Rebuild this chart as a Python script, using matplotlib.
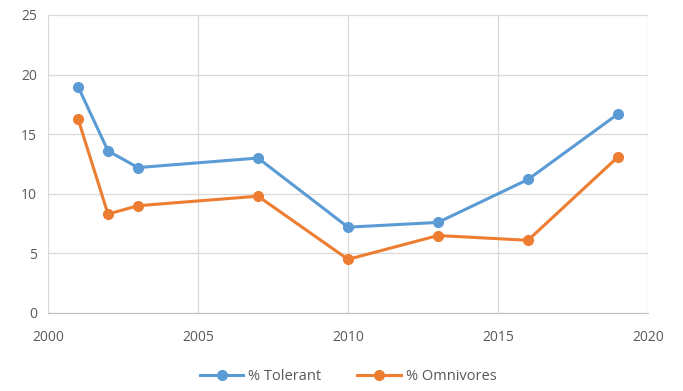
import matplotlib.pyplot as plt

plt.rcParams['font.family'] = ['Open Sans', 'DejaVu Sans']

years = [2001, 2002, 2003, 2007, 2010, 2013, 2016, 2019]
tolerant = [19.0, 13.6, 12.2, 13.0, 7.2, 7.6, 11.2, 16.7]
omnivores = [16.3, 8.3, 9.0, 9.8, 4.5, 6.5, 6.1, 13.1]
xticks = [2000, 2005, 2010, 2015, 2020]
yticks = [0, 5, 10, 15, 20, 25]

blue = '#5B9BD5'
orange = '#ED7D31'
grey = '#595959'

fig = plt.figure(figsize=(6.83, 3.91), dpi=100)
ax = fig.add_axes([48 / 683, 78 / 391, 600 / 683, 298 / 391])

ax.plot(years, tolerant, '-o', color=blue, lw=2.2, ms=7, label='% Tolerant')
ax.plot(years, omnivores, '-o', color=orange, lw=2.2, ms=7, label='% Omnivores')

ax.set_xlim(2000, 2020)
ax.set_ylim(0, 25)
ax.set_xticks(xticks)
ax.set_yticks(yticks)
ax.grid(True, color='#D9D9D9', lw=0.9)
ax.set_axisbelow(True)
for s in ['top', 'right', 'left']:
    ax.spines[s].set_visible(False)
ax.spines['bottom'].set_color('#BFBFBF')
ax.tick_params(length=0, labelsize=10, labelcolor=grey, pad=8)
ax.tick_params(axis='x', pad=12)

ax.legend(loc='upper center', bbox_to_anchor=(0.5, -0.145), ncol=2, frameon=False,
          fontsize=10.5, labelcolor=grey, handlelength=3, columnspacing=2.5,
          handletextpad=0.3)

fig.savefig('out.png', dpi=100)
